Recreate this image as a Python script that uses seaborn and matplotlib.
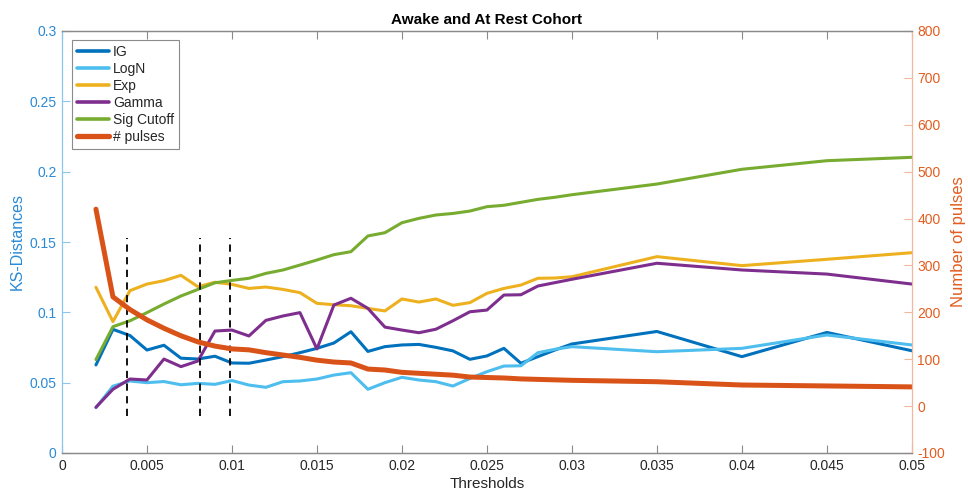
import numpy as np
import pandas as pd
import matplotlib
matplotlib.use("Agg")
import matplotlib.pyplot as plt
import seaborn as sns
from matplotlib.lines import Line2D

# Detection thresholds
thresholds = [0.002, 0.003, 0.004, 0.005, 0.006, 0.007, 0.008, 0.009, 0.010,
              0.011, 0.012, 0.013, 0.014, 0.015, 0.016, 0.017, 0.018, 0.019,
              0.020, 0.021, 0.022, 0.023, 0.024, 0.025, 0.026, 0.027, 0.028,
              0.029, 0.030, 0.035, 0.040, 0.045, 0.050]

# KS distances per fitted distribution
ks_ig = [0.0626, 0.0879, 0.0835, 0.0732, 0.0766, 0.0674, 0.0668, 0.0688, 0.0640,
         0.0638, 0.0661, 0.0685, 0.0713, 0.0744, 0.0782, 0.0862, 0.0722, 0.0756,
         0.0768, 0.0772, 0.0751, 0.0726, 0.0666, 0.0690, 0.0744, 0.0638, 0.0685,
         0.0732, 0.0775, 0.0864, 0.0685, 0.0857, 0.0727]
ks_logn = [0.0322, 0.0475, 0.0512, 0.0500, 0.0508, 0.0485, 0.0495, 0.0488, 0.0515,
           0.0483, 0.0467, 0.0507, 0.0512, 0.0526, 0.0554, 0.0571, 0.0453, 0.0500,
           0.0538, 0.0519, 0.0507, 0.0476, 0.0530, 0.0578, 0.0618, 0.0620, 0.0713,
           0.0737, 0.0756, 0.0720, 0.0744, 0.0839, 0.0768]
ks_exp = [0.1178, 0.0934, 0.1154, 0.1201, 0.1225, 0.1263, 0.1182, 0.1214, 0.1199,
          0.1170, 0.1180, 0.1163, 0.1140, 0.1064, 0.1054, 0.1047, 0.1028, 0.1010,
          0.1095, 0.1073, 0.1095, 0.1050, 0.1069, 0.1135, 0.1170, 0.1194, 0.1242,
          0.1244, 0.1253, 0.1396, 0.1332, 0.1377, 0.1424]
ks_gamma = [0.0325, 0.0453, 0.0526, 0.0519, 0.0668, 0.0614, 0.0654, 0.0867, 0.0874,
            0.0832, 0.0943, 0.0974, 0.0998, 0.0740, 0.1052, 0.1100, 0.1028, 0.0895,
            0.0874, 0.0855, 0.0880, 0.0940, 0.1004, 0.1016, 0.1123, 0.1125, 0.1187,
            0.1211, 0.1235, 0.1349, 0.1301, 0.1272, 0.1201]
sig_cutoff = [0.0664, 0.0898, 0.0940, 0.0998, 0.1059, 0.1116, 0.1163, 0.1210, 0.1227,
              0.1242, 0.1277, 0.1301, 0.1336, 0.1372, 0.1410, 0.1431, 0.1543, 0.1566,
              0.1637, 0.1668, 0.1692, 0.1703, 0.1720, 0.1751, 0.1761, 0.1782, 0.1803,
              0.1818, 0.1836, 0.1912, 0.2017, 0.2078, 0.2102]

# Pulse counts (right axis)
n_pulses = [420, 233, 206, 184, 166, 150, 137, 128, 122, 120, 114, 109, 104, 98, 94,
            92, 79, 77, 72, 70, 68, 66, 62, 61, 60, 58, 57, 56, 55, 52, 45, 43, 41]

# Reference thresholds marked with dashed lines
marker_thresholds = [0.0038, 0.0081, 0.0099]
marker_span = [0.026, 0.153]

series_names = ["IG", "LogN", "Exp", "Gamma", "Sig Cutoff"]
series_values = [ks_ig, ks_logn, ks_exp, ks_gamma, sig_cutoff]
series_colors = ["#0072BD", "#4DBEEE", "#EDB120", "#7E2F8E", "#77AC30"]
pulse_color = "#D95319"

x_ticks = [0, 0.005, 0.01, 0.015, 0.02, 0.025, 0.03, 0.035, 0.04, 0.045, 0.05]
x_tick_labels = ["0", "0.005", "0.01", "0.015", "0.02", "0.025", "0.03",
                 "0.035", "0.04", "0.045", "0.05"]
left_ticks = [0, 0.05, 0.1, 0.15, 0.2, 0.25, 0.3]
left_tick_labels = ["0", "0.05", "0.1", "0.15", "0.2", "0.25", "0.3"]
right_ticks = [-100, 0, 100, 200, 300, 400, 500, 600, 700, 800]

sns.set_theme(style="white")
plt.rcParams["font.family"] = ["Liberation Sans", "DejaVu Sans"]

left_text = "#2a8ad6"
left_line = "#8cc6ef"
right_text = "#e25d1f"
right_line = "#f3b79a"
frame_gray = "#8a8a8a"

ks_df = pd.DataFrame({
    "threshold": np.tile(thresholds, len(series_names)),
    "ks": np.concatenate(series_values),
    "series": np.repeat(series_names, len(thresholds)),
})
pulse_df = pd.DataFrame({"threshold": thresholds, "pulses": n_pulses})

fig = plt.figure(figsize=(9.68, 5.0), dpi=100)
ax = fig.add_axes([0.064, 0.094, 0.878, 0.844])
ax2 = ax.twinx()

sns.lineplot(data=ks_df, x="threshold", y="ks", hue="series", hue_order=series_names,
             palette=series_colors, linewidth=2.2, ax=ax, legend=False, sort=False)
sns.lineplot(data=pulse_df, x="threshold", y="pulses", color=pulse_color,
             linewidth=3.6, ax=ax2, legend=False, sort=False)

for xv in marker_thresholds:
    ax.plot([xv, xv], marker_span, color="black", linestyle=(0, (4, 3)), linewidth=1.3)

ax.set_xlim(0, 0.05)
ax.set_ylim(0, 0.3)
ax2.set_ylim(-100, 800)

ax.set_xticks(x_ticks)
ax.set_xticklabels(x_tick_labels)
ax.set_yticks(left_ticks)
ax.set_yticklabels(left_tick_labels)
ax2.set_yticks(right_ticks)
ax2.set_yticklabels([str(v) for v in right_ticks])

ax.tick_params(axis="x", direction="in", length=6, width=0.8, colors=frame_gray,
               labelcolor="#262626", labelsize=10, top=True, bottom=True, pad=4)
ax.tick_params(axis="y", direction="in", length=6, width=0.8, colors=left_line,
               labelcolor=left_text, labelsize=10, pad=4)
ax2.tick_params(axis="y", direction="in", length=6, width=0.8, colors=right_line,
                labelcolor=right_text, labelsize=10, pad=4)

for a in (ax, ax2):
    a.spines["top"].set_color(frame_gray)
    a.spines["bottom"].set_color(frame_gray)
    a.spines["left"].set_color(left_line)
    a.spines["right"].set_color(right_line)
    for s in a.spines.values():
        s.set_linewidth(0.9)
        s.set_visible(True)
ax.spines["right"].set_visible(False)
ax2.spines["left"].set_visible(False)

ax.set_xlabel("Thresholds", fontsize=11, color="#262626", labelpad=3)
ax.set_ylabel("KS-Distances", fontsize=11.5, color=left_text, labelpad=3)
ax2.set_ylabel("Number of pulses", fontsize=12, color=right_text, labelpad=4)
ax.set_title("Awake and At Rest Cohort", fontsize=11, fontweight="bold",
             color="black", pad=5)

handles = [Line2D([0], [0], color=c, linewidth=2.6) for c in series_colors]
handles.append(Line2D([0], [0], color=pulse_color, linewidth=3.8))
labels = series_names + ["# pulses"]
leg = ax2.legend(handles, labels, loc="upper left", bbox_to_anchor=(0.012, 0.979),
                 fontsize=10, frameon=True, fancybox=False, edgecolor="#6e6e6e",
                 handlelength=2.3, handletextpad=0.3, labelspacing=0.22,
                 borderpad=0.35, borderaxespad=0)
leg.get_frame().set_linewidth(0.8)

fig.savefig("out.png", dpi=100)
